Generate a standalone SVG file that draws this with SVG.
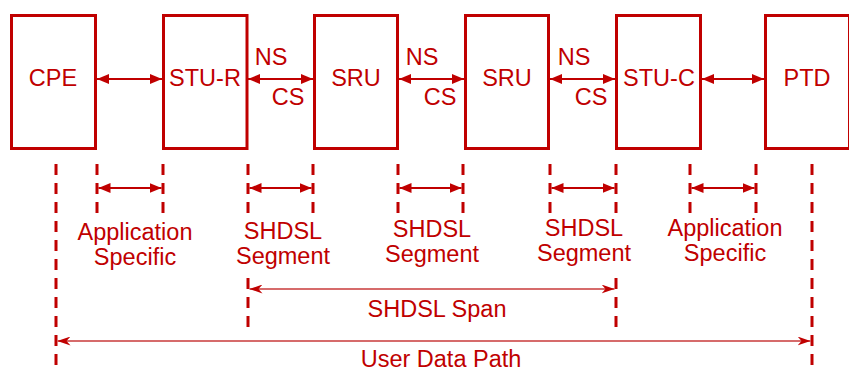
<svg xmlns="http://www.w3.org/2000/svg" width="849" height="371" viewBox="0 0 849 371">
  <style>
    .box { fill: #ffffff; stroke: #c00000; stroke-width: 3; }
    .lbl { font-family: "Liberation Sans", Arial, sans-serif; font-size: 23.5px; fill: #c00000; text-anchor: middle; }
    .link { stroke: #c00000; stroke-width: 1.8; fill: none; }
    .span { stroke: #c83a3a; stroke-width: 1.6; fill: none; }
    .dash { stroke: #c00000; stroke-width: 3; stroke-dasharray: 11 8; fill: none; }
  </style>
  <defs>
    <marker id="head" viewBox="0 0 12 10" refX="12" refY="5" markerWidth="12" markerHeight="10" markerUnits="userSpaceOnUse" orient="auto-start-reverse">
      <path d="M0,0 L12,5 L0,10 z" fill="#c00000"/>
    </marker>
    <marker id="barb" viewBox="0 0 13 9" refX="13" refY="4.5" markerWidth="13" markerHeight="9" markerUnits="userSpaceOnUse" orient="auto-start-reverse">
      <path d="M0,0 L13,4.5 L0,9 L4,4.5 z" fill="#c00000"/>
    </marker>
  </defs>

  <!-- equipment blocks -->
  <g id="cpe">
    <rect class="box" x="11.5" y="15.5" width="84" height="133"/>
    <text class="lbl" x="53" y="86">CPE</text>
  </g>
  <g id="stu-r">
    <rect class="box" x="163.5" y="15.5" width="83.5" height="133"/>
    <text class="lbl" x="205" y="86">STU-R</text>
  </g>
  <g id="sru-1">
    <rect class="box" x="314.5" y="15.5" width="83" height="133"/>
    <text class="lbl" x="356" y="86">SRU</text>
  </g>
  <g id="sru-2">
    <rect class="box" x="465.5" y="15.5" width="83" height="133"/>
    <text class="lbl" x="507" y="86">SRU</text>
  </g>
  <g id="stu-c">
    <rect class="box" x="616.5" y="15.5" width="84" height="133"/>
    <text class="lbl" x="659" y="86">STU-C</text>
  </g>
  <g id="ptd">
    <rect class="box" x="765.5" y="15.5" width="84" height="133"/>
    <text class="lbl" x="807" y="86">PTD</text>
  </g>

  <!-- interface labels -->
  <g id="iface-labels">
    <text class="lbl" x="271" y="65">NS</text>
    <text class="lbl" x="288" y="105">CS</text>
    <text class="lbl" x="422" y="65">NS</text>
    <text class="lbl" x="440" y="105">CS</text>
    <text class="lbl" x="574" y="65">NS</text>
    <text class="lbl" x="591" y="105">CS</text>
  </g>

  <!-- connectors -->
  <g id="connectors">
    <line class="link" x1="97" y1="79" x2="162" y2="79" marker-start="url(#head)" marker-end="url(#head)"/>
    <line class="link" x1="248" y1="79" x2="313" y2="79" marker-start="url(#head)" marker-end="url(#head)"/>
    <line class="link" x1="399" y1="79" x2="464" y2="79" marker-start="url(#head)" marker-end="url(#head)"/>
    <line class="link" x1="550" y1="79" x2="615" y2="79" marker-start="url(#head)" marker-end="url(#head)"/>
    <line class="link" x1="702" y1="79" x2="764" y2="79" marker-start="url(#head)" marker-end="url(#head)"/>
  </g>

  <!-- dimension guides -->
  <g id="guides">
    <line class="dash" x1="56" y1="164" x2="56" y2="371"/>
    <line class="dash" x1="812" y1="164" x2="812" y2="371"/>
    <line class="dash" x1="248" y1="164" x2="248" y2="213"/>
    <line class="dash" x1="248" y1="278" x2="248" y2="327"/>
    <line class="dash" x1="616" y1="164" x2="616" y2="213"/>
    <line class="dash" x1="616" y1="278" x2="616" y2="327"/>
    <line class="dash" x1="97" y1="164" x2="97" y2="213"/>
    <line class="dash" x1="163" y1="164" x2="163" y2="213"/>
    <line class="dash" x1="313" y1="164" x2="313" y2="213"/>
    <line class="dash" x1="398" y1="164" x2="398" y2="213"/>
    <line class="dash" x1="463" y1="164" x2="463" y2="213"/>
    <line class="dash" x1="550" y1="164" x2="550" y2="213"/>
    <line class="dash" x1="690" y1="164" x2="690" y2="213"/>
    <line class="dash" x1="756" y1="164" x2="756" y2="213"/>
  </g>

  <!-- dimension arrows -->
  <g id="dimensions">
    <line class="link" x1="98.5" y1="188" x2="161.5" y2="188" marker-start="url(#head)" marker-end="url(#head)"/>
    <line class="link" x1="249.5" y1="188" x2="311.5" y2="188" marker-start="url(#head)" marker-end="url(#head)"/>
    <line class="link" x1="399.5" y1="188" x2="461.5" y2="188" marker-start="url(#head)" marker-end="url(#head)"/>
    <line class="link" x1="551.5" y1="188" x2="614.5" y2="188" marker-start="url(#head)" marker-end="url(#head)"/>
    <line class="link" x1="691.5" y1="188" x2="754.5" y2="188" marker-start="url(#head)" marker-end="url(#head)"/>
    <line class="span" x1="249.5" y1="289" x2="614.5" y2="289" marker-start="url(#barb)" marker-end="url(#barb)"/>
    <line class="span" x1="57.5" y1="341" x2="810.5" y2="341" marker-start="url(#barb)" marker-end="url(#barb)"/>
  </g>

  <!-- dimension labels -->
  <g id="dimension-labels">
    <text class="lbl" x="135" y="240">Application</text>
    <text class="lbl" x="135" y="265">Specific</text>
    <text class="lbl" x="283" y="239">SHDSL</text>
    <text class="lbl" x="283" y="264">Segment</text>
    <text class="lbl" x="432" y="237">SHDSL</text>
    <text class="lbl" x="432" y="262">Segment</text>
    <text class="lbl" x="584" y="236">SHDSL</text>
    <text class="lbl" x="584" y="261">Segment</text>
    <text class="lbl" x="725" y="236">Application</text>
    <text class="lbl" x="725" y="261">Specific</text>
    <text class="lbl" x="437" y="317">SHDSL Span</text>
    <text class="lbl" x="441" y="367">User Data Path</text>
  </g>
</svg>
